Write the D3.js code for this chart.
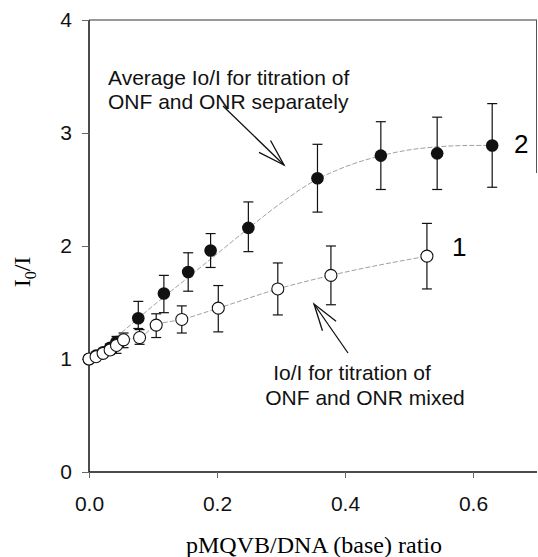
<!DOCTYPE html>
<html><head><meta charset="utf-8">
<script src="https://cdn.jsdelivr.net/npm/d3@7"></script>
<style>body{margin:0;background:#fff}svg{display:block}</style>
</head><body>
<script>
// Series 2 (filled): average Io/I, ONF and ONR titrated separately
const x2 = [0, 0.011, 0.022, 0.033, 0.043, 0.077, 0.117, 0.155, 0.19, 0.249, 0.357, 0.456, 0.544, 0.63];
const y2 = [1.0, 1.03, 1.06, 1.10, 1.15, 1.36, 1.58, 1.77, 1.96, 2.16, 2.60, 2.80, 2.82, 2.89];
const e2lo = [1.0, 1.03, 1.06, 1.10, 1.15, 1.27, 1.41, 1.60, 1.81, 1.95, 2.30, 2.50, 2.50, 2.52];
const e2hi = [1.0, 1.03, 1.06, 1.10, 1.15, 1.51, 1.74, 1.94, 2.11, 2.39, 2.90, 3.10, 3.14, 3.26];
// Fitted curve for series 2
const fit2X = [0, 0.05, 0.1, 0.15, 0.2, 0.25, 0.3, 0.35, 0.4, 0.45, 0.5, 0.55, 0.6, 0.63];
const fit2Y = [1.0, 1.23, 1.47, 1.70, 1.93, 2.16, 2.38, 2.57, 2.70, 2.79, 2.85, 2.88, 2.89, 2.89];
// Series 1 (open): Io/I, ONF and ONR mixed
const x1 = [0, 0.011, 0.022, 0.033, 0.043, 0.054, 0.079, 0.105, 0.145, 0.202, 0.295, 0.378, 0.528];
const y1 = [1.0, 1.02, 1.05, 1.08, 1.12, 1.17, 1.19, 1.30, 1.35, 1.45, 1.62, 1.74, 1.91];
const e1lo = [1.0, 1.02, 1.05, 1.04, 1.05, 1.10, 1.13, 1.19, 1.23, 1.24, 1.39, 1.48, 1.62];
const e1hi = [1.0, 1.02, 1.05, 1.13, 1.20, 1.23, 1.26, 1.40, 1.47, 1.65, 1.85, 2.00, 2.20];
const xTicks = [0, 0.2, 0.4, 0.6];
const yTicks = [0, 1, 2, 3, 4];

const W = 538, H = 557;
const svg = d3.select("body").append("svg").attr("width", W).attr("height", H);
const x = d3.scaleLinear().domain([0, 0.7]).range([89, 537]);
const y = d3.scaleLinear().domain([0, 4]).range([472, 20]);
const sans = "Arial, 'Liberation Sans', sans-serif";
const serif = "'Times New Roman', 'Liberation Serif', serif";

// frame
svg.append("line").attr("x1", x(0)).attr("x2", x(0.7)).attr("y1", y(4)).attr("y2", y(4)).attr("stroke", "#333").attr("stroke-width", 1.2);
svg.append("line").attr("x1", x(0.7) - 0.5).attr("x2", x(0.7) - 0.5).attr("y1", y(4)).attr("y2", 173).attr("stroke", "#555").attr("stroke-width", 1);

// axes
const yAxis = d3.axisLeft(y).tickValues(yTicks).tickFormat(d3.format("d")).tickSize(7).tickPadding(10);
const gy = svg.append("g").attr("transform", `translate(${x(0)},0)`).call(yAxis);
const xAxis = d3.axisBottom(x).tickValues(xTicks).tickFormat(d3.format(".1f")).tickSize(6).tickPadding(18);
const gx = svg.append("g").attr("transform", `translate(0,${y(0)})`).call(xAxis);
[gx, gy].forEach(g => {
  g.select(".domain").attr("stroke", "#111").attr("stroke-width", 1.5);
  g.selectAll(".tick line").attr("stroke", "#666");
  g.selectAll("text").attr("font-family", sans).attr("font-size", 21).attr("fill", "#111");
});
gx.select(".domain").attr("d", `M${x(0)},0H${x(0.7)}`);
gy.select(".domain").attr("d", `M0,${y(0)}V${y(4)}`);

// curves
const ptsFit = fit2X.map((d, i) => [x(d), y(fit2Y[i])]);
const pts1 = x1.map((d, i) => [x(d), y(y1[i])]);
svg.append("path").attr("d", d3.line().curve(d3.curveMonotoneX)(ptsFit)).attr("fill", "none")
  .attr("stroke", "#888").attr("stroke-width", 0.8).attr("stroke-dasharray", "5,2");
svg.append("path").attr("d", d3.line().curve(d3.curveMonotoneX)(pts1)).attr("fill", "none")
  .attr("stroke", "#888").attr("stroke-width", 0.8).attr("stroke-dasharray", "5,2");

function errorBars(xs, lo, hi) {
  const g = svg.append("g").attr("stroke", "#111").attr("stroke-width", 1.2);
  xs.forEach((d, i) => {
    if (hi[i] - lo[i] < 0.02) return;
    g.append("line").attr("x1", x(d)).attr("x2", x(d)).attr("y1", y(lo[i])).attr("y2", y(hi[i]));
    [lo[i], hi[i]].forEach(v => g.append("line").attr("x1", x(d) - 5).attr("x2", x(d) + 5).attr("y1", y(v)).attr("y2", y(v)));
  });
}
errorBars(x2, e2lo, e2hi);
errorBars(x1, e1lo, e1hi);

svg.append("g").selectAll("circle").data(x2).join("circle")
  .attr("cx", d => x(d)).attr("cy", (d, i) => y(y2[i])).attr("r", 6.3).attr("fill", "#111");
svg.append("g").selectAll("circle").data(x1).join("circle")
  .attr("cx", d => x(d)).attr("cy", (d, i) => y(y1[i])).attr("r", 6)
  .attr("fill", "#fff").attr("stroke", "#111").attr("stroke-width", 1.1);

// series labels
svg.append("text").attr("x", 514).attr("y", 153).attr("font-family", sans).attr("font-size", 26).text("2");
svg.append("text").attr("x", 452).attr("y", 256).attr("font-family", sans).attr("font-size", 26).text("1");

// annotations
const ann = svg.append("g").attr("font-family", sans).attr("font-size", 21).attr("fill", "#111");
ann.append("text").attr("x", 108).attr("y", 85).text("Average Io/I for titration of");
ann.append("text").attr("x", 108).attr("y", 109).text("ONF and ONR separately");
ann.append("text").attr("x", 352).attr("y", 380).attr("text-anchor", "middle").text("Io/I for titration of");
ann.append("text").attr("x", 365).attr("y", 405).attr("text-anchor", "middle").text("ONF and ONR mixed");

function arrow(x0, y0, x1_, y1_) {
  const g = svg.append("g").attr("stroke", "#111").attr("stroke-width", 1.3).attr("fill", "none");
  g.append("line").attr("x1", x0).attr("y1", y0).attr("x2", x1_).attr("y2", y1_);
  const a = Math.atan2(y1_ - y0, x1_ - x0), L = 28, s = 0.3;
  const w1 = [x1_ - L * Math.cos(a - s), y1_ - L * Math.sin(a - s)];
  const w2 = [x1_ - L * Math.cos(a + s), y1_ - L * Math.sin(a + s)];
  g.append("path").attr("d", `M${w1[0]},${w1[1]}L${x1_},${y1_}L${w2[0]},${w2[1]}`);
}
arrow(223, 106, 284, 165);
arrow(348, 353, 314, 304);

// axis titles
svg.append("text").attr("x", 314).attr("y", 553).attr("text-anchor", "middle")
  .attr("font-family", serif).attr("font-size", 24).text("pMQVB/DNA (base) ratio");
const yl = svg.append("text").attr("transform", "translate(30,272) rotate(-90)").attr("text-anchor", "middle")
  .attr("font-family", serif).attr("font-size", 24);
yl.append("tspan").text("I");
yl.append("tspan").attr("font-size", 16).attr("dy", 6).text("0");
yl.append("tspan").attr("dy", -6).text("/I");
</script>
</body></html>
